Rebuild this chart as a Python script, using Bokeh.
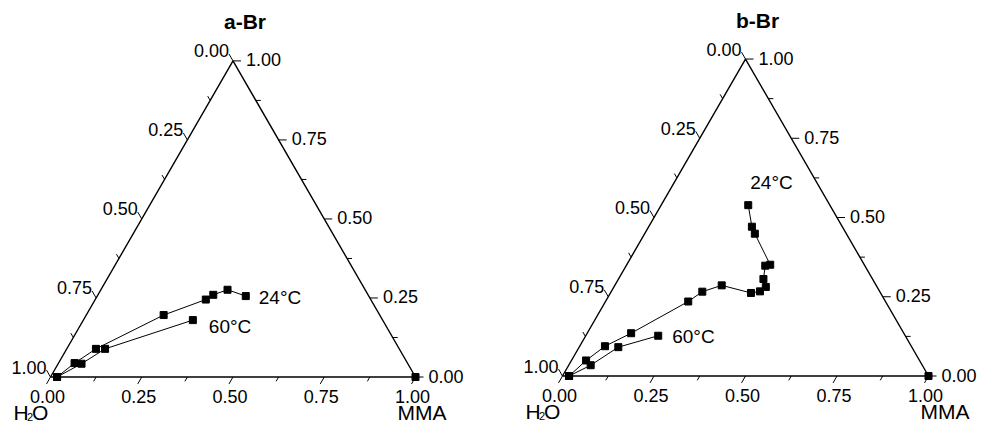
import numpy as np
from bokeh.plotting import figure
from bokeh.layouts import row
from bokeh.models import Range1d
from bokeh.core.properties import value
from bokeh.embed import file_html
from bokeh.resources import INLINE

# ---- data: ternary compositions given as (MMA fraction, top-component fraction); H2O = 1 - MMA - top
a_24_mma = [0.018, 0.044, 0.080, 0.212, 0.303, 0.316, 0.347, 0.407]
a_24_top = [0.000, 0.044, 0.089, 0.196, 0.245, 0.260, 0.276, 0.256]
a_60_mma = [0.018, 0.064, 0.105, 0.300]
a_60_top = [0.000, 0.042, 0.089, 0.180]

b_24_mma = [0.018, 0.040, 0.069, 0.120, 0.226, 0.249, 0.292, 0.384, 0.406, 0.415,
            0.396, 0.380, 0.392, 0.301, 0.282, 0.238]
b_24_top = [0.000, 0.049, 0.094, 0.135, 0.235, 0.266, 0.286, 0.262, 0.267, 0.281,
            0.306, 0.348, 0.351, 0.449, 0.471, 0.539]
b_60_mma = [0.018, 0.060, 0.107, 0.198]
b_60_top = [0.000, 0.034, 0.091, 0.127]

pure_mma = [1.0]
pure_top = [0.0]

major_ticks = [0.0, 0.25, 0.5, 0.75, 1.0]
major_labels = ["0.00", "0.25", "0.50", "0.75", "1.00"]
minor_ticks = [0.125, 0.375, 0.625, 0.875]

FONT = value("Liberation Sans")
S3 = np.sqrt(3) / 2
H = 423


def tern(mma, top):
    mma = np.asarray(mma, float)
    top = np.asarray(top, float)
    return mma + top / 2, top * S3


def panel(W, scale, x0px, y0px, title, d24, d60, l24, l60, mma_dx):
    p = figure(width=W, height=H, output_backend="svg", toolbar_location=None,
               x_range=Range1d(-x0px / scale, (W - x0px) / scale),
               y_range=Range1d(-y0px / scale, (H - y0px) / scale),
               x_axis_location=None, y_axis_location=None, min_border=0,
               outline_line_color=None)
    p.xgrid.visible = False
    p.ygrid.visible = False

    # triangle frame
    fx, fy = tern([0, 1, 0, 0], [0, 0, 1, 0])
    p.line(fx, fy, line_color="black", line_width=1.4)

    # ticks (each axis ticks parallel to a neighbouring side, as in the original)
    def ticks(vals, length):
        t = np.asarray(vals, float)
        L = length / scale
        bx, by = tern(t, np.zeros_like(t))           # bottom axis (MMA)
        p.segment(bx, by, bx - 0.5 * L, by - S3 * L, line_color="black", line_width=1)
        rx, ry = tern(1 - t, t)                       # right axis (top component)
        p.segment(rx, ry, rx + L, ry, line_color="black", line_width=1)
        lx, ly = tern(np.zeros_like(t), 1 - t)        # left axis (H2O)
        p.segment(lx, ly, lx - 0.5 * L, ly + S3 * L, line_color="black", line_width=1)

    ticks(major_ticks, 8)
    ticks(minor_ticks, 5)

    t = np.asarray(major_ticks)
    bx, by = tern(t, np.zeros_like(t))
    p.text(bx, by, text=major_labels, text_font=FONT, text_font_size="18px",
           text_align="center", text_baseline="middle", x_offset=-3, y_offset=19)
    rx, ry = tern(1 - t, t)
    p.text(rx, ry, text=major_labels, text_font=FONT, text_font_size="18px",
           text_align="left", text_baseline="middle", x_offset=13, y_offset=-1)
    lx, ly = tern(np.zeros_like(t), 1 - t)
    p.text(lx, ly, text=major_labels, text_font=FONT, text_font_size="18px",
           text_align="right", text_baseline="middle", x_offset=-4, y_offset=-10)

    # data series
    for (m, tp) in (d24, d60):
        x, y = tern(m, tp)
        p.line(x, y, line_color="black", line_width=1)
        p.scatter(x, y, marker="square", size=7, fill_color="black", line_color="black")
    ex, ey = tern(pure_mma, pure_top)
    p.scatter(ex, ey, marker="square", size=7, fill_color="black", line_color="black")

    # series labels anchored at series end points
    for (m, tp), (txt, dx, dy, idx) in ((d24, l24), (d60, l60)):
        x, y = tern(m, tp)
        p.text([x[idx]], [y[idx]], text=[txt], text_font=FONT, text_font_size="19px",
               text_align="left", text_baseline="middle", x_offset=dx, y_offset=dy)

    # panel title
    tx, ty = tern([0], [1])
    p.text(tx, ty, text=[title], text_font=FONT, text_font_size="21px",
           text_font_style="bold", text_align="center", text_baseline="middle",
           x_offset=12, y_offset=-39)

    # vertex names
    vx, vy = tern([0], [0])
    p.text(vx, vy, text=["H"], text_font=FONT, text_font_size="21px",
           text_align="left", text_baseline="middle", x_offset=-37, y_offset=35)
    p.text(vx, vy, text=["2"], text_font=FONT, text_font_size="11px",
           text_align="left", text_baseline="middle", x_offset=-23.5, y_offset=40)
    p.text(vx, vy, text=["O"], text_font=FONT, text_font_size="21px",
           text_align="left", text_baseline="middle", x_offset=-18.5, y_offset=35)
    mx, my = tern([1], [0])
    p.text(mx, my, text=["MMA"], text_font=FONT, text_font_size="21px",
           text_align="left", text_baseline="middle", x_offset=mma_dx, y_offset=35)
    return p


pa = panel(492, 365.0, 50, H - 376.5, "a-Br",
           (a_24_mma, a_24_top), (a_60_mma, a_60_top),
           ("24°C", 13, 1, -1), ("60°C", 16, 6, -1), -18)
pb = panel(485, 366.0, 70, H - 375.5, "b-Br",
           (b_24_mma, b_24_top), (b_60_mma, b_60_top),
           ("24°C", 2, -23, -1), ("60°C", 14, 1, -1), -8)

layout = row(pa, pb)
open("out.html", "w").write(file_html(layout, INLINE))
